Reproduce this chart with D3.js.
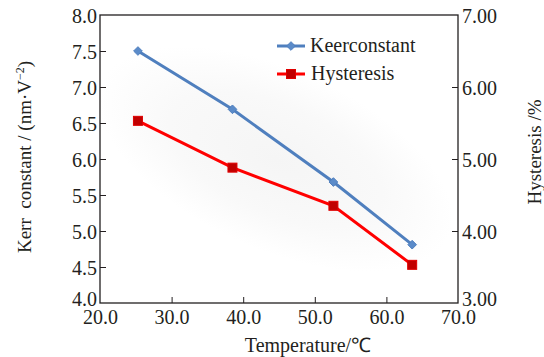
<!DOCTYPE html>
<html>
<head>
<meta charset="utf-8">
<script src="https://cdn.jsdelivr.net/npm/d3@7"></script>
</head>
<body style="margin:0">
<svg id="chart" width="544" height="357" font-family="Liberation Serif">
<text x="-100" y="-100" font-family="Liberation Serif" font-size="20" opacity="0">Kerr 7.50 ℃</text>
</svg>
<script>
// data
const temperature = [25.3, 38.5, 52.6, 63.6]
const kerrConstant = [7.5, 6.69, 5.68, 4.81]
const hysteresis = [5.53, 4.88, 4.35, 3.53]
const xTicks = [20, 30, 40, 50, 60, 70]
const yLeftTicks = [4.0, 4.5, 5.0, 5.5, 6.0, 6.5, 7.0, 7.5, 8.0]
const yRightTicks = [3, 4, 5, 6, 7]

const serif = "Liberation Serif"
const ink = "#231f20"

let dimensions = {
    width: 544,
    height: 357,
    margin: {
        top: 15,
        right: 86,
        bottom: 54,
        left: 100,
    },
}
dimensions.boundedWidth = dimensions.width
    - dimensions.margin.left
    - dimensions.margin.right
dimensions.boundedHeight = dimensions.height
    - dimensions.margin.top
    - dimensions.margin.bottom

const wrapper = d3.select("#chart")

// soft grey glow behind the lines
const grad = wrapper.append("defs").append("radialGradient").attr("id", "glow")
grad.append("stop").attr("offset", "0%").attr("stop-color", "#f5f5f5")
grad.append("stop").attr("offset", "60%").attr("stop-color", "#f9f9f9")
grad.append("stop").attr("offset", "100%").attr("stop-color", "#ffffff")

const bounds = wrapper.append("g")
    .attr("transform", `translate(${dimensions.margin.left},${dimensions.margin.top})`)

const xScale = d3.scaleLinear().domain([20, 70]).range([0, dimensions.boundedWidth])
const yLeft = d3.scaleLinear().domain([4, 8]).range([dimensions.boundedHeight, 0])
const yRight = d3.scaleLinear().domain([3, 7]).range([dimensions.boundedHeight, 0])

bounds.append("ellipse")
    .attr("cx", xScale(44.5))
    .attr("cy", yLeft(6.0))
    .attr("rx", 190)
    .attr("ry", 90)
    .attr("transform", `rotate(24 ${xScale(44.5)} ${yLeft(6.0)})`)
    .attr("fill", "url(#glow)")

// frame
bounds.append("rect")
    .attr("width", dimensions.boundedWidth)
    .attr("height", dimensions.boundedHeight)
    .attr("fill", "none")
    .attr("stroke", ink)
    .attr("stroke-width", 1.3)

// axes
const fmt1 = d3.format(".1f")
const xAxis = bounds.append("g")
    .attr("transform", `translate(0,${dimensions.boundedHeight})`)
    .call(d3.axisBottom(xScale).tickValues(xTicks).tickSizeInner(-6).tickSizeOuter(0).tickPadding(9).tickFormat(fmt1))
const yAxisLeft = bounds.append("g")
    .call(d3.axisLeft(yLeft).tickValues(yLeftTicks).tickSizeInner(-6).tickSizeOuter(0).tickPadding(3).tickFormat(fmt1))
const yAxisRight = bounds.append("g")
    .attr("transform", `translate(${dimensions.boundedWidth},0)`)
    .call(d3.axisRight(yRight).tickValues(yRightTicks).tickSizeInner(-6).tickSizeOuter(0).tickPadding(4).tickFormat(d3.format(".2f")))

wrapper.selectAll(".domain").remove()
// axis groups carry sans-serif / 10px by default, point them at the serif
bounds.selectAll("g").filter(function() { return this.hasAttribute("font-family") })
    .attr("font-family", serif).attr("font-size", 20)
wrapper.selectAll(".tick line").attr("stroke", ink).attr("stroke-width", 1)
wrapper.selectAll(".tick text")
    .attr("font-size", 20)
    .attr("font-family", serif)
    .attr("fill", ink)
// end ticks sit on the frame corners, no tick marks there
xAxis.selectAll(".tick line").filter(d => d == 20 || d == 70).remove()
yAxisLeft.selectAll(".tick line").filter(d => d == 4 || d == 8).remove()
yAxisRight.selectAll(".tick line").filter(d => d == 3 || d == 7).remove()
yAxisLeft.selectAll(".tick text").attr("dy", "0.36em")
yAxisLeft.selectAll(".tick text").filter(d => d == 4).attr("dy", "0.12em")
yAxisRight.selectAll(".tick text").attr("dy", "0.36em")
yAxisRight.selectAll(".tick text").filter(d => d == 3).attr("dy", "0.12em")
xAxis.selectAll(".tick text").attr("dy", "0.62em")

// lines
const kerrLine = d3.line()
    .x((d, i) => xScale(temperature[i]))
    .y(d => yLeft(d))
const hystLine = d3.line()
    .x((d, i) => xScale(temperature[i]))
    .y(d => yRight(d))

bounds.append("path")
    .attr("d", kerrLine(kerrConstant))
    .attr("fill", "none")
    .attr("stroke", "#4f7fbe")
    .attr("stroke-width", 3)
bounds.append("path")
    .attr("d", hystLine(hysteresis))
    .attr("fill", "none")
    .attr("stroke", "#ff0000")
    .attr("stroke-width", 3)

const diamond = d3.symbol().type(d3.symbolDiamond2).size(48)
bounds.selectAll(".kerr-pt")
  .data(kerrConstant)
  .join("path")
    .attr("class", "kerr-pt")
    .attr("transform", (d, i) => `translate(${xScale(temperature[i])},${yLeft(d)})`)
    .attr("d", diamond)
    .attr("fill", "#5b8bc9")
    .attr("stroke", "#4f7fbe")
    .attr("stroke-width", 1)

bounds.selectAll(".hyst-pt")
  .data(hysteresis)
  .join("rect")
    .attr("class", "hyst-pt")
    .attr("x", (d, i) => xScale(temperature[i]) - 4.5)
    .attr("y", d => yRight(d) - 4.5)
    .attr("width", 9)
    .attr("height", 9)
    .attr("fill", "#c00000")
    .attr("stroke", "#e00000")
    .attr("stroke-width", 1)

// legend
const legendGroup = wrapper.append("g")
legendGroup.append("line").attr("x1", 277).attr("x2", 305).attr("y1", 46).attr("y2", 46)
    .attr("stroke", "#4f7fbe").attr("stroke-width", 3)
legendGroup.append("path").attr("transform", "translate(291,46)").attr("d", diamond)
    .attr("fill", "#5b8bc9").attr("stroke", "#4f7fbe")
legendGroup.append("text").attr("x", 310).attr("y", 52).text("Keerconstant")
    .attr("font-size", 20).attr("font-family", serif).attr("fill", ink)

legendGroup.append("line").attr("x1", 277).attr("x2", 305).attr("y1", 74).attr("y2", 74)
    .attr("stroke", "#ff0000").attr("stroke-width", 3)
legendGroup.append("rect").attr("x", 286.5).attr("y", 69.5).attr("width", 9).attr("height", 9)
    .attr("fill", "#c00000").attr("stroke", "#e00000")
legendGroup.append("text").attr("x", 311).attr("y", 80).text("Hysteresis")
    .attr("font-size", 20).attr("font-family", serif).attr("fill", ink)

// axis titles
const leftTitle = wrapper.append("text")
    .attr("transform", "translate(31,157) rotate(-90)")
    .attr("text-anchor", "middle")
    .attr("font-size", 19).attr("font-family", serif).attr("fill", ink)
leftTitle.append("tspan").text("Kerr\u00a0 constant / (nm\u00b7V")
leftTitle.append("tspan").attr("dy", -7).attr("font-size", 12).text("\u22122")
leftTitle.append("tspan").attr("dy", 7).text(")")

wrapper.append("text")
    .attr("transform", "translate(541,152) rotate(-90)")
    .attr("text-anchor", "middle")
    .attr("font-size", 19).attr("font-family", serif).attr("fill", ink)
    .text("Hysteresis /%")

wrapper.append("text")
    .attr("x", 308)
    .attr("y", 352)
    .attr("text-anchor", "middle")
    .attr("font-size", 20).attr("font-family", serif).attr("fill", ink)
    .text("Temperature/\u2103")
</script>
</body>
</html>
